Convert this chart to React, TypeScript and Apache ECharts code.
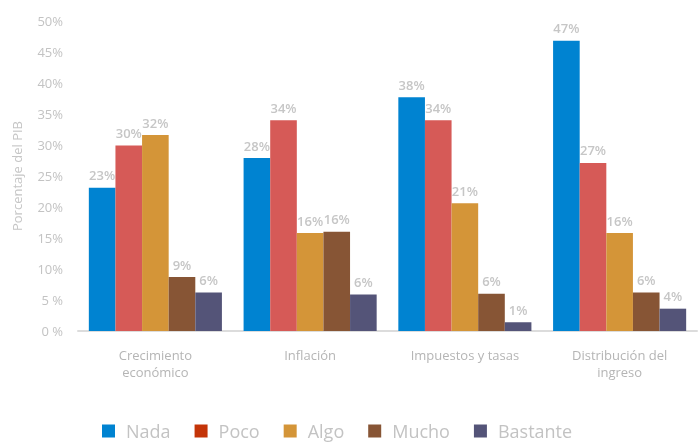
import React, { useEffect, useRef } from "react";
import * as echarts from "echarts";

const categories = ["Crecimiento\neconómico", "Inflación", "Impuestos y tasas", "Distribución del\ningreso"];
const seriesNames = ["Nada", "Poco", "Algo", "Mucho", "Bastante"];
const nada = [23.1, 27.9, 37.7, 46.8];
const poco = [29.9, 34.0, 34.0, 27.1];
const algo = [31.6, 15.8, 20.6, 15.8];
const mucho = [8.7, 16.0, 6.0, 6.2];
const bastante = [6.2, 5.9, 1.4, 3.6];
const seriesValues = [nada, poco, algo, mucho, bastante];
const barColors = ["#0083d1", "#d65a57", "#d49538", "#875535", "#545478"];
const legendColors = ["#0083d1", "#c43408", "#d49538", "#875535", "#545478"];
const yTicks = [0, 5, 10, 15, 20, 25, 30, 35, 40, 45, 50];

export default function App() {
  const ref = useRef<HTMLDivElement>(null);
  useEffect(() => {
    if (!ref.current) return;
    const chart = echarts.init(ref.current, null, { renderer: "svg" });
    const font = "'Open Sans', sans-serif";
    chart.setOption({
      animation: false,
      textStyle: { fontFamily: font },
      grid: { left: 78, right: 3, top: 21, bottom: 111 },
      legend: {
        top: 422,
        left: 102,
        padding: 0,
        itemWidth: 13,
        itemHeight: 13,
        itemGap: 24,
        icon: "rect",
        textStyle: { fontSize: 18, lineHeight: 18, color: "#c3c3c3", fontFamily: font, padding: [0, 0, 0, 6] },
        data: seriesNames.map((n, i) => ({ name: n, itemStyle: { color: legendColors[i] } })),
      },
      xAxis: {
        type: "category",
        data: categories,
        axisLine: { show: true, lineStyle: { color: "#dcdcdc", width: 2 } },
        axisTick: { show: false },
        axisLabel: { color: "#b5b5b5", fontSize: 13, lineHeight: 17, margin: 15, fontFamily: font },
      },
      yAxis: {
        type: "value",
        min: 0,
        max: 50,
        interval: 5,
        name: "Porcentaje del PIB",
        nameLocation: "middle",
        nameGap: 55,
        nameTextStyle: { color: "#c6c6c6", fontSize: 13, fontFamily: font },
        axisLine: { show: false },
        axisTick: { show: false },
        splitLine: { show: false },
        axisLabel: {
          color: "#c3c3c3",
          fontSize: 13,
          margin: 15,
          fontFamily: font,
          formatter: (v: number) => (yTicks.includes(v) ? (v < 10 ? v + " %" : v + "%") : ""),
        },
      },
      series: seriesNames.map((name, i) => ({
        name,
        type: "bar",
        data: seriesValues[i],
        barGap: "0%",
        barCategoryGap: "14%",
        itemStyle: { color: barColors[i] },
        label: {
          show: true,
          position: "top",
          distance: 6,
          color: "#c6c6c6",
          fontSize: 13,
          fontWeight: 600,
          fontFamily: font,
          formatter: (p: any) => Math.round(p.value) + "%",
        },
      })),
    });
    return () => chart.dispose();
  }, []);
  return <div ref={ref} style={{ position: "fixed", left: 0, top: 0, width: 700, height: 442 }} />;
}
